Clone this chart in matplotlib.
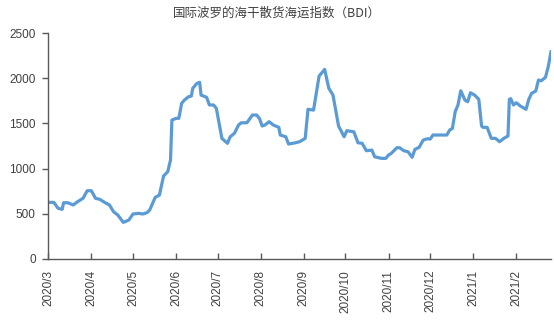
import matplotlib
matplotlib.use("Agg")
import matplotlib.pyplot as plt
import matplotlib.dates as mdates
import pandas as pd

# BDI readings (date, index value)
dates = [
    "2020-03-02", "2020-03-05", "2020-03-08", "2020-03-11", "2020-03-12", "2020-03-15",
    "2020-03-19", "2020-03-22", "2020-03-26", "2020-03-29", "2020-04-01", "2020-04-04",
    "2020-04-07", "2020-04-11", "2020-04-14", "2020-04-17", "2020-04-20", "2020-04-24",
    "2020-04-28", "2020-05-01", "2020-05-05", "2020-05-08", "2020-05-11", "2020-05-13",
    "2020-05-17", "2020-05-20", "2020-05-23", "2020-05-26", "2020-05-28", "2020-05-29",
    "2020-06-01", "2020-06-03", "2020-06-05", "2020-06-07", "2020-06-10", "2020-06-12",
    "2020-06-13", "2020-06-16", "2020-06-18", "2020-06-19", "2020-06-23", "2020-06-25",
    "2020-06-28", "2020-06-30", "2020-07-04", "2020-07-08", "2020-07-10", "2020-07-13",
    "2020-07-16", "2020-07-18", "2020-07-22", "2020-07-26", "2020-07-29", "2020-07-31",
    "2020-08-02", "2020-08-04", "2020-08-07", "2020-08-10", "2020-08-14", "2020-08-15",
    "2020-08-19", "2020-08-21", "2020-08-26", "2020-08-29", "2020-09-02", "2020-09-04",
    "2020-09-08", "2020-09-12", "2020-09-16", "2020-09-19", "2020-09-22", "2020-09-26",
    "2020-09-30", "2020-10-02", "2020-10-07", "2020-10-10", "2020-10-13", "2020-10-16",
    "2020-10-20", "2020-10-22", "2020-10-27", "2020-10-30", "2020-11-01", "2020-11-03",
    "2020-11-07", "2020-11-09", "2020-11-12", "2020-11-15", "2020-11-18", "2020-11-20",
    "2020-11-23", "2020-11-26", "2020-11-29", "2020-12-01", "2020-12-03", "2020-12-13",
    "2020-12-15", "2020-12-17", "2020-12-19", "2020-12-21", "2020-12-23", "2020-12-26",
    "2020-12-28", "2020-12-30", "2021-01-02", "2021-01-05", "2021-01-07", "2021-01-08",
    "2021-01-11", "2021-01-14", "2021-01-17", "2021-01-20", "2021-01-23", "2021-01-26",
    "2021-01-27", "2021-01-28", "2021-01-30", "2021-02-01", "2021-02-04", "2021-02-08",
    "2021-02-10", "2021-02-12", "2021-02-15", "2021-02-17", "2021-02-19", "2021-02-22",
    "2021-02-24", "2021-02-26",
]
bdi = [
    625, 625, 559, 548, 621, 621,
    596, 632, 670, 754, 754, 670,
    659, 621, 596, 521, 485, 403,
    429, 496, 503, 496, 510, 540,
    681, 706, 917, 965, 1095, 1538,
    1557, 1557, 1723, 1760, 1797, 1804,
    1890, 1945, 1956, 1815, 1790, 1705,
    1705, 1668, 1335, 1280, 1353, 1391,
    1483, 1508, 1508, 1594, 1594, 1557,
    1472, 1483, 1520, 1483, 1457, 1372,
    1353, 1272, 1286, 1298, 1335, 1657,
    1649, 2026, 2100, 1890, 1815, 1472,
    1353, 1420, 1408, 1286, 1280, 1198,
    1205, 1131, 1113, 1113, 1150, 1169,
    1231, 1231, 1198, 1187, 1125, 1213,
    1235, 1316, 1331, 1327, 1372, 1372,
    1427, 1446, 1630, 1705, 1863, 1760,
    1741, 1841, 1815, 1768, 1472, 1457,
    1457, 1335, 1335, 1298, 1335, 1361,
    1768, 1775, 1705, 1730, 1693, 1657,
    1768, 1834, 1860, 1982, 1974, 2012,
    2129, 2296,
]
title = "国际波罗的海干散货海运指数（BDI）"
y_ticks = [0, 500, 1000, 1500, 2000, 2500]

plt.rcParams['font.family'] = ['Liberation Sans', 'Noto Sans CJK SC', 'DejaVu Sans']

x = pd.to_datetime(dates)

fig = plt.figure(figsize=(5.54, 3.30), dpi=100)
ax = fig.add_axes([0.0872, 0.216, 0.9074, 0.683])

ax.plot(x, bdi, color='#5B9BD5', linewidth=2.3, solid_joinstyle='round')

ax.set_xlim(pd.Timestamp("2020-03-01"), x[-1])
ax.set_ylim(0, 2500)
ax.set_yticks(y_ticks)

ax.xaxis.set_major_locator(mdates.MonthLocator())
ax.xaxis.set_major_formatter(mdates.DateFormatter('%Y/%-m'))

axis_col = '#595959'
text_col = '#404040'
for side in ['top', 'right']:
    ax.spines[side].set_visible(False)
for side in ['left', 'bottom']:
    ax.spines[side].set_color(axis_col)
    ax.spines[side].set_linewidth(1.0)

ax.tick_params(axis='y', direction='out', length=4, width=1, color=axis_col,
               labelcolor=text_col, labelsize=8.5, pad=5)
ax.tick_params(axis='x', direction='in', length=4, width=1, color=axis_col,
               labelcolor=text_col, labelsize=8.5, pad=8, labelrotation=90)
for lab in ax.get_xticklabels():
    lab.set_verticalalignment('top')

fig.text(0.5, 0.96, title, ha='center', va='center', fontsize=9, color=text_col,
         family=['Noto Sans CJK SC', 'DejaVu Sans'])

fig.savefig('out.png', dpi=100)
